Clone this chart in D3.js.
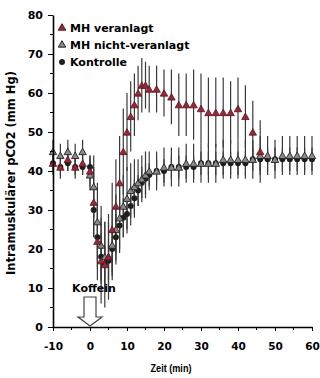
<!DOCTYPE html>
<html>
<head>
<meta charset="utf-8">
<script src="https://cdn.jsdelivr.net/npm/d3@7"></script>
<style>
  body { margin: 0; background: #fff; }
  svg { display: block; font-family: "DejaVu Sans", sans-serif; font-weight: bold; }
</style>
</head>
<body>
<div id="chart"></div>
<script>
// values
const xTicks = [-10, 0, 10, 20, 30, 40, 50, 60];
const yTicks = [0, 10, 20, 30, 40, 50, 60, 70, 80];

const timeVeranlagt = [-10,-8,-6,-4,-2,0,1,2,3,4,5,6,7,8,9,10,11,12,13,14,15,16,18,20,22,24,26,28,30,32,34,36,38,40,42,44,46];
const meanVeranlagt = [42,41,43,41,42,40,32,22,17,16,18,25,31,37,45,50,54,57,60,62,62,61,61,60,59,57,57,57,56,55,55,55,55,56,54,50,45];
const sdVeranlagt   = [3,3,3,3,3,4,9,10,11,11,11,12,12,12,11,10,9,8,7,7,6,6,6,6,7,8,8,9,9,9,9,9,8,8,8,8,8];

const timeOther = [-10,-8,-6,-4,-2,0,1,2,3,4,5,6,7,8,9,10,11,12,13,14,15,16,18,20,22,24,26,28,30,32,34,36,38,40,42,44,46,48,50,52,54,56,58,60];
const meanNicht = [45,44,45,44,45,39,36,27,21,18,18,21,25,28,31,33,35,36,37,38,39,40,40,41,41,41,42,42,42,42,42,43,43,43,43,43,44,44,43,44,44,44,44,44];
const sdNicht   = [3,3,3,3,3,4,8,10,10,9,9,9,9,9,8,8,7,7,6,6,6,5,5,5,5,5,5,5,5,5,5,5,5,5,5,5,5,5,5,5,5,5,5,5];
const meanKontrolle = [42,41,42,41,41,41,30,23,18,16,17,20,23,26,28,29,31,33,35,37,38,39,40,40,41,41,41,41,42,42,42,42,42,42,42,43,43,43,43,43,43,43,43,43];
const sdKontrolle   = [2,2,2,2,2,3,7,8,6,5,5,6,6,6,5,5,5,5,4,4,4,3,3,3,3,3,3,3,3,3,3,3,3,3,3,3,3,3,3,3,3,3,3,3];

const seriesNames = ["MH veranlagt", "MH nicht-veranlagt", "Kontrolle"];

let width = 320, height = 378;
let margin = { top: 15, right: 8, bottom: 51, left: 53 };

const svg = d3.select("#chart").append("svg")
  .attr("width", width)
  .attr("height", height);

let x = d3.scaleLinear().domain([-10, 60]).range([margin.left, width - margin.right]);
let y = d3.scaleLinear().domain([0, 80]).range([height - margin.bottom, margin.top]);

const toPoints = (t, m, s) => t.map((d, i) => ({ t: d, v: m[i], e: s[i] }));
const veranlagt = toPoints(timeVeranlagt, meanVeranlagt, sdVeranlagt);
const nicht = toPoints(timeOther, meanNicht, sdNicht);
const kontrolle = toPoints(timeOther, meanKontrolle, sdKontrolle);

// error bars first, markers on top
const bars = svg.append("g").attr("stroke", "#3a3a3a").attr("stroke-width", 1.2);
[kontrolle, nicht, veranlagt].forEach(data => {
  bars.selectAll(null).data(data).join("line")
    .attr("x1", d => x(d.t)).attr("x2", d => x(d.t))
    .attr("y1", d => y(d.v - d.e)).attr("y2", d => y(d.v + d.e));
});

const tri = d3.symbol().type(d3.symbolTriangle).size(24);
const circ = d3.symbol().type(d3.symbolCircle).size(28);

svg.append("g").selectAll("path").data(kontrolle).join("path")
  .attr("transform", d => `translate(${x(d.t)},${y(d.v)})`)
  .attr("d", circ).attr("fill", "#1e1e1e");

svg.append("g").selectAll("path").data(nicht).join("path")
  .attr("transform", d => `translate(${x(d.t)},${y(d.v) + 1})`)
  .attr("d", tri).attr("fill", "#8a8a8a").attr("stroke", "#222").attr("stroke-width", 0.9);

svg.append("g").selectAll("path").data(veranlagt).join("path")
  .attr("transform", d => `translate(${x(d.t)},${y(d.v) + 1})`)
  .attr("d", tri).attr("fill", "#96283a").attr("stroke", "#5a1420").attr("stroke-width", 0.8);

// axes
let xAxis = g => g
  .attr("transform", `translate(0,${height - margin.bottom})`)
  .call(d3.axisBottom(x).tickValues(xTicks).tickFormat(d => String(d)).tickSize(4).tickPadding(12).tickSizeOuter(0))
  .call(g => g.select(".domain").attr("stroke-width", 1.6))
  .call(g => g.selectAll("text").attr("font-size", 10.5).attr("font-family", "DejaVu Sans").attr("font-weight", "bold"));

let yAxis = g => g
  .attr("transform", `translate(${margin.left},0)`)
  .call(d3.axisLeft(y).tickValues(yTicks).tickSize(5).tickPadding(5).tickSizeOuter(0))
  .call(g => g.select(".domain").attr("stroke-width", 1.6))
  .call(g => g.selectAll("text").attr("font-size", 11).attr("font-family", "DejaVu Sans").attr("font-weight", "bold"));

svg.append("g").call(xAxis);
svg.append("g").call(yAxis);

// minor ticks at 5s
svg.append("g").attr("stroke", "#000").selectAll("line")
  .data(d3.range(-5, 60, 10)).join("line")
  .attr("x1", d => x(d)).attr("x2", d => x(d))
  .attr("y1", y(0)).attr("y2", y(0) + 3);
svg.append("g").attr("stroke", "#000").selectAll("line")
  .data(d3.range(5, 80, 10)).join("line")
  .attr("x1", x(-10) - 3).attr("x2", x(-10))
  .attr("y1", d => y(d)).attr("y2", d => y(d));

// axis titles
svg.append("text")
  .attr("transform", `translate(15,${(y(0) + y(80)) / 2 + 2}) rotate(-90)`)
  .attr("text-anchor", "middle")
  .attr("font-size", 11.5)
  .text("Intramuskulärer pCO2 (mm Hg)");

svg.append("text")
  .attr("x", 171).attr("y", 372)
  .attr("text-anchor", "middle")
  .attr("font-family", "Liberation Sans")
  .attr("font-size", 11.5)
  .attr("textLength", 41).attr("lengthAdjust", "spacingAndGlyphs")
  .text("Zeit (min)");

// caffeine marker
svg.append("text")
  .attr("x", x(0) + 4).attr("y", 292)
  .attr("text-anchor", "middle")
  .attr("font-size", 11)
  .text("Koffein");

const ax = x(0), arrowTop = 297, arrowNeck = 317, arrowTip = y(0) - 1;
svg.append("path")
  .attr("d", `M${ax - 6},${arrowTop}H${ax + 6}V${arrowNeck}H${ax + 12}L${ax},${arrowTip}L${ax - 12},${arrowNeck}H${ax - 6}Z`)
  .attr("fill", "#fff").attr("stroke", "#444").attr("stroke-width", 1.2);

// legend
const legend = svg.append("g").attr("transform", "translate(62,28)");
const legendRows = legend.selectAll("g").data(seriesNames).join("g")
  .attr("transform", (d, i) => `translate(0,${i * 17})`);
legendRows.append("path")
  .attr("d", (d, i) => i === 2 ? circ() : tri())
  .attr("fill", (d, i) => ["#96283a", "#8a8a8a", "#1e1e1e"][i])
  .attr("stroke", (d, i) => ["#5a1420", "#222", "none"][i]);
legendRows.append("text")
  .attr("x", 8).attr("y", 4)
  .attr("font-size", 11)
  .text(d => d);
</script>
</body>
</html>
